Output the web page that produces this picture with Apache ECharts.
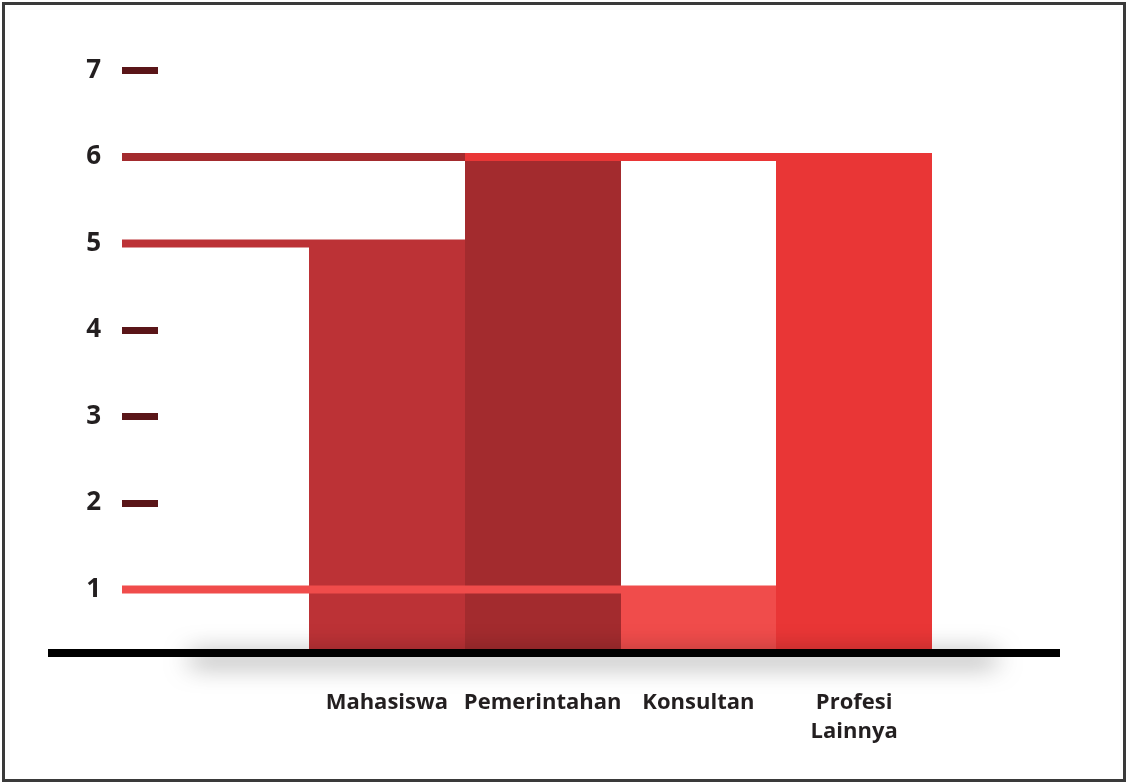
<!DOCTYPE html>
<html>
<head>
<meta charset="utf-8">
<title>Profesi Responden</title>
<script src="https://cdn.jsdelivr.net/npm/echarts@6/dist/echarts.min.js"></script>
<style>
html, body { margin: 0; padding: 0; background: #fff; }
.chart-container { position: relative; width: 1126px; height: 782px; }
.chart { width: 100%; height: 100%; }
.frame { position: absolute; left: 2px; top: 2px; right: 0; bottom: 0; border: 3px solid #3a3a3a; pointer-events: none; }
</style>
</head>
<body>
<div class="chart-container">
  <div id="chart" class="chart"></div>
  <div class="frame"></div>
</div>
<script>
// data
const categories = ['Mahasiswa', 'Pemerintahan', 'Konsultan', 'Profesi\nLainnya']
const values = [5, 6, 1, 6]
const yTicks = [1, 2, 3, 4, 5, 6, 7]

// styling
const barColors = ['#BC3236', '#A32B2E', '#F04C4B', '#E93636']
const lineOrder = [3, 0, 1, 2] // draw order of the level lines
const FONT = '"Open Sans", sans-serif'
const AXIS_OFFSET = 151
const TICK_LEN = 36
const LEVEL_LINE = 8

const chart = echarts.init(document.getElementById('chart'))

const hiddenX = (gridIndex, z, lineStyle) => ({
  type: 'value', gridIndex, min: 0, max: 1, z,
  axisLine: { show: true, lineStyle: Object.assign({ cap: 'butt' }, lineStyle) },
  axisTick: { show: false }, axisLabel: { show: false }, splitLine: { show: false }
})

// bar edges snapped to whole pixels so neighbouring bars meet cleanly
function bandEdges(api, idx) {
  const c = api.coord([idx, 0])[0]
  const band = api.size([1, 0])[0]
  return [Math.round(c - band / 2), Math.round(c + band / 2)]
}

chart.setOption({
  animation: false,
  backgroundColor: '#fff',
  grid: [
    { left: 309, right: 194, top: 22, bottom: 133 },
    { left: 48, right: 66, top: 22, bottom: 129 },
    { left: 190, right: 130, top: 22, bottom: 129 }
  ],
  xAxis: [
    {
      type: 'category', gridIndex: 0, data: categories,
      axisLine: { show: false }, axisTick: { show: false },
      axisLabel: {
        interval: 0, margin: 39, color: '#231F20', fontFamily: FONT, fontWeight: 'bold',
        fontSize: 22, lineHeight: 29
      }
    },
    hiddenX(1, 5, { color: '#000', width: 8 }),
    hiddenX(2, 3, { color: '#000', width: 8, shadowColor: 'rgba(0,0,0,0.6)', shadowBlur: 26, shadowOffsetY: 6 })
  ],
  yAxis: [
    {
      type: 'value', gridIndex: 0, min: 0.312, max: 7.56, offset: AXIS_OFFSET,
      axisLine: { show: false },
      splitLine: { show: false },
      axisTick: {
        show: true, length: TICK_LEN, customValues: yTicks,
        lineStyle: { color: '#5A1518', width: 7 }
      },
      axisLabel: {
        customValues: yTicks, margin: TICK_LEN + 21, color: '#231F20',
        fontFamily: FONT, fontWeight: 'bold', fontSize: 26
      }
    },
    { type: 'value', gridIndex: 1, show: false },
    { type: 'value', gridIndex: 2, show: false }
  ],
  series: [
    {
      // bars: top edge flush with the top of the level line
      type: 'custom', xAxisIndex: 0, yAxisIndex: 0, z: 2,
      encode: { x: 0, y: 1 },
      data: values.map((v, i) => [i, v]),
      renderItem(params, api) {
        const idx = api.value(0)
        const [x0, x1] = bandEdges(api, idx)
        const y = api.coord([idx, api.value(1)])[1] - LEVEL_LINE / 2
        const base = params.coordSys.y + params.coordSys.height
        return {
          type: 'rect',
          shape: { x: x0, y, width: x1 - x0, height: base - y },
          style: { fill: barColors[idx] }
        }
      }
    },
    {
      // level lines from the value axis to the bar
      type: 'custom', xAxisIndex: 0, yAxisIndex: 0, z: 4,
      encode: { x: 0, y: 1 },
      data: lineOrder.map(i => [i, values[i]]),
      renderItem(params, api) {
        const idx = api.value(0)
        const y = api.coord([idx, api.value(1)])[1] - LEVEL_LINE / 2
        const x0 = params.coordSys.x - AXIS_OFFSET - TICK_LEN
        const x1 = bandEdges(api, idx)[0]
        return {
          type: 'rect',
          shape: { x: x0, y, width: x1 - x0, height: LEVEL_LINE },
          style: { fill: barColors[idx] }
        }
      }
    }
  ]
})
</script>
</body>
</html>
